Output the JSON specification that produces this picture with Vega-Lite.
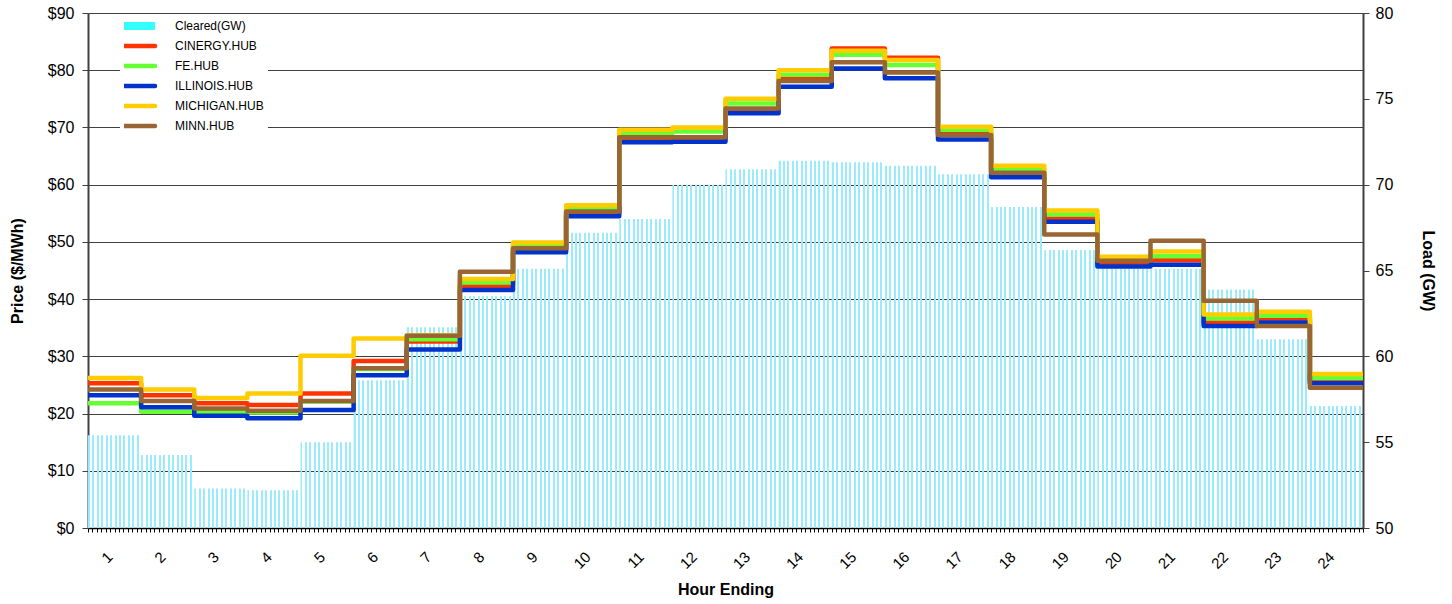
{
  "$schema": "https://vega.github.io/schema/vega-lite/v6.json",
  "width": 1275,
  "height": 515,
  "autosize": {"type": "none"},
  "padding": {"left": 88, "top": 13, "right": 89, "bottom": 76},
  "background": "white",
  "config": {
    "view": {"stroke": null},
    "font": "Liberation Sans",
    "axis": {"labelFont": "Liberation Sans", "titleFont": "Liberation Sans", "labelColor": "black", "titleColor": "black"}
  },
  "datasets": {
    "load": [
      {"hour_begin": 0, "hour_end": 1, "load": 55.4},
      {"hour_begin": 1, "hour_end": 2, "load": 54.25},
      {"hour_begin": 2, "hour_end": 3, "load": 52.3},
      {"hour_begin": 3, "hour_end": 4, "load": 52.2},
      {"hour_begin": 4, "hour_end": 5, "load": 55.0},
      {"hour_begin": 5, "hour_end": 6, "load": 58.6},
      {"hour_begin": 6, "hour_end": 7, "load": 61.7},
      {"hour_begin": 7, "hour_end": 8, "load": 63.5},
      {"hour_begin": 8, "hour_end": 9, "load": 65.1},
      {"hour_begin": 9, "hour_end": 10, "load": 67.2},
      {"hour_begin": 10, "hour_end": 11, "load": 68.0},
      {"hour_begin": 11, "hour_end": 12, "load": 70.0},
      {"hour_begin": 12, "hour_end": 13, "load": 70.9},
      {"hour_begin": 13, "hour_end": 14, "load": 71.4},
      {"hour_begin": 14, "hour_end": 15, "load": 71.3},
      {"hour_begin": 15, "hour_end": 16, "load": 71.1},
      {"hour_begin": 16, "hour_end": 17, "load": 70.6},
      {"hour_begin": 17, "hour_end": 18, "load": 68.7},
      {"hour_begin": 18, "hour_end": 19, "load": 66.2},
      {"hour_begin": 19, "hour_end": 20, "load": 65.1},
      {"hour_begin": 20, "hour_end": 21, "load": 65.1},
      {"hour_begin": 21, "hour_end": 22, "load": 63.9},
      {"hour_begin": 22, "hour_end": 23, "load": 61.0},
      {"hour_begin": 23, "hour_end": 24, "load": 57.1}
    ],
    "prices": [
      {"hub": "CINERGY.HUB", "hour_begin": 0, "hour_end": 1, "price": 25.3},
      {"hub": "CINERGY.HUB", "hour_begin": 1, "hour_end": 2, "price": 23.2},
      {"hub": "CINERGY.HUB", "hour_begin": 2, "hour_end": 3, "price": 21.8},
      {"hub": "CINERGY.HUB", "hour_begin": 3, "hour_end": 4, "price": 21.5},
      {"hub": "CINERGY.HUB", "hour_begin": 4, "hour_end": 5, "price": 23.5},
      {"hub": "CINERGY.HUB", "hour_begin": 5, "hour_end": 6, "price": 29.2},
      {"hub": "CINERGY.HUB", "hour_begin": 6, "hour_end": 7, "price": 32.6},
      {"hub": "CINERGY.HUB", "hour_begin": 7, "hour_end": 8, "price": 42.3},
      {"hub": "CINERGY.HUB", "hour_begin": 8, "hour_end": 9, "price": 48.7},
      {"hub": "CINERGY.HUB", "hour_begin": 9, "hour_end": 10, "price": 55.1},
      {"hub": "CINERGY.HUB", "hour_begin": 10, "hour_end": 11, "price": 68.2},
      {"hub": "CINERGY.HUB", "hour_begin": 11, "hour_end": 12, "price": 68.2},
      {"hub": "CINERGY.HUB", "hour_begin": 12, "hour_end": 13, "price": 73.2},
      {"hub": "CINERGY.HUB", "hour_begin": 13, "hour_end": 14, "price": 78.6},
      {"hub": "CINERGY.HUB", "hour_begin": 14, "hour_end": 15, "price": 83.8},
      {"hub": "CINERGY.HUB", "hour_begin": 15, "hour_end": 16, "price": 82.2},
      {"hub": "CINERGY.HUB", "hour_begin": 16, "hour_end": 17, "price": 69.0},
      {"hub": "CINERGY.HUB", "hour_begin": 17, "hour_end": 18, "price": 62.0},
      {"hub": "CINERGY.HUB", "hour_begin": 18, "hour_end": 19, "price": 54.1},
      {"hub": "CINERGY.HUB", "hour_begin": 19, "hour_end": 20, "price": 46.3},
      {"hub": "CINERGY.HUB", "hour_begin": 20, "hour_end": 21, "price": 46.8},
      {"hub": "CINERGY.HUB", "hour_begin": 21, "hour_end": 22, "price": 35.9},
      {"hub": "CINERGY.HUB", "hour_begin": 22, "hour_end": 23, "price": 36.6},
      {"hub": "CINERGY.HUB", "hour_begin": 23, "hour_end": 24, "price": 25.7},
      {"hub": "FE.HUB", "hour_begin": 0, "hour_end": 1, "price": 21.8},
      {"hub": "FE.HUB", "hour_begin": 1, "hour_end": 2, "price": 20.3},
      {"hub": "FE.HUB", "hour_begin": 2, "hour_end": 3, "price": 20.3},
      {"hub": "FE.HUB", "hour_begin": 3, "hour_end": 4, "price": 20.2},
      {"hub": "FE.HUB", "hour_begin": 4, "hour_end": 5, "price": 22.1},
      {"hub": "FE.HUB", "hour_begin": 5, "hour_end": 6, "price": 27.8},
      {"hub": "FE.HUB", "hour_begin": 6, "hour_end": 7, "price": 33.0},
      {"hub": "FE.HUB", "hour_begin": 7, "hour_end": 8, "price": 42.9},
      {"hub": "FE.HUB", "hour_begin": 8, "hour_end": 9, "price": 49.5},
      {"hub": "FE.HUB", "hour_begin": 9, "hour_end": 10, "price": 55.9},
      {"hub": "FE.HUB", "hour_begin": 10, "hour_end": 11, "price": 69.0},
      {"hub": "FE.HUB", "hour_begin": 11, "hour_end": 12, "price": 69.3},
      {"hub": "FE.HUB", "hour_begin": 12, "hour_end": 13, "price": 74.2},
      {"hub": "FE.HUB", "hour_begin": 13, "hour_end": 14, "price": 79.2},
      {"hub": "FE.HUB", "hour_begin": 14, "hour_end": 15, "price": 82.7},
      {"hub": "FE.HUB", "hour_begin": 15, "hour_end": 16, "price": 80.9},
      {"hub": "FE.HUB", "hour_begin": 16, "hour_end": 17, "price": 69.6},
      {"hub": "FE.HUB", "hour_begin": 17, "hour_end": 18, "price": 62.7},
      {"hub": "FE.HUB", "hour_begin": 18, "hour_end": 19, "price": 54.8},
      {"hub": "FE.HUB", "hour_begin": 19, "hour_end": 20, "price": 47.0},
      {"hub": "FE.HUB", "hour_begin": 20, "hour_end": 21, "price": 47.5},
      {"hub": "FE.HUB", "hour_begin": 21, "hour_end": 22, "price": 36.6},
      {"hub": "FE.HUB", "hour_begin": 22, "hour_end": 23, "price": 37.1},
      {"hub": "FE.HUB", "hour_begin": 23, "hour_end": 24, "price": 26.2},
      {"hub": "ILLINOIS.HUB", "hour_begin": 0, "hour_end": 1, "price": 23.2},
      {"hub": "ILLINOIS.HUB", "hour_begin": 1, "hour_end": 2, "price": 21.1},
      {"hub": "ILLINOIS.HUB", "hour_begin": 2, "hour_end": 3, "price": 19.6},
      {"hub": "ILLINOIS.HUB", "hour_begin": 3, "hour_end": 4, "price": 19.2},
      {"hub": "ILLINOIS.HUB", "hour_begin": 4, "hour_end": 5, "price": 20.6},
      {"hub": "ILLINOIS.HUB", "hour_begin": 5, "hour_end": 6, "price": 26.7},
      {"hub": "ILLINOIS.HUB", "hour_begin": 6, "hour_end": 7, "price": 31.2},
      {"hub": "ILLINOIS.HUB", "hour_begin": 7, "hour_end": 8, "price": 41.6},
      {"hub": "ILLINOIS.HUB", "hour_begin": 8, "hour_end": 9, "price": 48.2},
      {"hub": "ILLINOIS.HUB", "hour_begin": 9, "hour_end": 10, "price": 54.5},
      {"hub": "ILLINOIS.HUB", "hour_begin": 10, "hour_end": 11, "price": 67.4},
      {"hub": "ILLINOIS.HUB", "hour_begin": 11, "hour_end": 12, "price": 67.5},
      {"hub": "ILLINOIS.HUB", "hour_begin": 12, "hour_end": 13, "price": 72.5},
      {"hub": "ILLINOIS.HUB", "hour_begin": 13, "hour_end": 14, "price": 77.1},
      {"hub": "ILLINOIS.HUB", "hour_begin": 14, "hour_end": 15, "price": 80.3},
      {"hub": "ILLINOIS.HUB", "hour_begin": 15, "hour_end": 16, "price": 78.6},
      {"hub": "ILLINOIS.HUB", "hour_begin": 16, "hour_end": 17, "price": 67.9},
      {"hub": "ILLINOIS.HUB", "hour_begin": 17, "hour_end": 18, "price": 61.3},
      {"hub": "ILLINOIS.HUB", "hour_begin": 18, "hour_end": 19, "price": 53.5},
      {"hub": "ILLINOIS.HUB", "hour_begin": 19, "hour_end": 20, "price": 45.7},
      {"hub": "ILLINOIS.HUB", "hour_begin": 20, "hour_end": 21, "price": 46.0},
      {"hub": "ILLINOIS.HUB", "hour_begin": 21, "hour_end": 22, "price": 35.3},
      {"hub": "ILLINOIS.HUB", "hour_begin": 22, "hour_end": 23, "price": 35.9},
      {"hub": "ILLINOIS.HUB", "hour_begin": 23, "hour_end": 24, "price": 25.3},
      {"hub": "MICHIGAN.HUB", "hour_begin": 0, "hour_end": 1, "price": 26.2},
      {"hub": "MICHIGAN.HUB", "hour_begin": 1, "hour_end": 2, "price": 24.2},
      {"hub": "MICHIGAN.HUB", "hour_begin": 2, "hour_end": 3, "price": 22.7},
      {"hub": "MICHIGAN.HUB", "hour_begin": 3, "hour_end": 4, "price": 23.5},
      {"hub": "MICHIGAN.HUB", "hour_begin": 4, "hour_end": 5, "price": 30.1},
      {"hub": "MICHIGAN.HUB", "hour_begin": 5, "hour_end": 6, "price": 33.1},
      {"hub": "MICHIGAN.HUB", "hour_begin": 6, "hour_end": 7, "price": 33.7},
      {"hub": "MICHIGAN.HUB", "hour_begin": 7, "hour_end": 8, "price": 43.5},
      {"hub": "MICHIGAN.HUB", "hour_begin": 8, "hour_end": 9, "price": 49.9},
      {"hub": "MICHIGAN.HUB", "hour_begin": 9, "hour_end": 10, "price": 56.4},
      {"hub": "MICHIGAN.HUB", "hour_begin": 10, "hour_end": 11, "price": 69.6},
      {"hub": "MICHIGAN.HUB", "hour_begin": 11, "hour_end": 12, "price": 70.0},
      {"hub": "MICHIGAN.HUB", "hour_begin": 12, "hour_end": 13, "price": 75.0},
      {"hub": "MICHIGAN.HUB", "hour_begin": 13, "hour_end": 14, "price": 80.0},
      {"hub": "MICHIGAN.HUB", "hour_begin": 14, "hour_end": 15, "price": 83.4},
      {"hub": "MICHIGAN.HUB", "hour_begin": 15, "hour_end": 16, "price": 81.8},
      {"hub": "MICHIGAN.HUB", "hour_begin": 16, "hour_end": 17, "price": 70.1},
      {"hub": "MICHIGAN.HUB", "hour_begin": 17, "hour_end": 18, "price": 63.3},
      {"hub": "MICHIGAN.HUB", "hour_begin": 18, "hour_end": 19, "price": 55.5},
      {"hub": "MICHIGAN.HUB", "hour_begin": 19, "hour_end": 20, "price": 47.4},
      {"hub": "MICHIGAN.HUB", "hour_begin": 20, "hour_end": 21, "price": 48.3},
      {"hub": "MICHIGAN.HUB", "hour_begin": 21, "hour_end": 22, "price": 37.3},
      {"hub": "MICHIGAN.HUB", "hour_begin": 22, "hour_end": 23, "price": 37.8},
      {"hub": "MICHIGAN.HUB", "hour_begin": 23, "hour_end": 24, "price": 26.9},
      {"hub": "MINN.HUB", "hour_begin": 0, "hour_end": 1, "price": 24.2},
      {"hub": "MINN.HUB", "hour_begin": 1, "hour_end": 2, "price": 22.2},
      {"hub": "MINN.HUB", "hour_begin": 2, "hour_end": 3, "price": 20.9},
      {"hub": "MINN.HUB", "hour_begin": 3, "hour_end": 4, "price": 20.5},
      {"hub": "MINN.HUB", "hour_begin": 4, "hour_end": 5, "price": 22.2},
      {"hub": "MINN.HUB", "hour_begin": 5, "hour_end": 6, "price": 27.9},
      {"hub": "MINN.HUB", "hour_begin": 6, "hour_end": 7, "price": 33.6},
      {"hub": "MINN.HUB", "hour_begin": 7, "hour_end": 8, "price": 44.8},
      {"hub": "MINN.HUB", "hour_begin": 8, "hour_end": 9, "price": 48.9},
      {"hub": "MINN.HUB", "hour_begin": 9, "hour_end": 10, "price": 55.3},
      {"hub": "MINN.HUB", "hour_begin": 10, "hour_end": 11, "price": 68.3},
      {"hub": "MINN.HUB", "hour_begin": 11, "hour_end": 12, "price": 68.3},
      {"hub": "MINN.HUB", "hour_begin": 12, "hour_end": 13, "price": 73.3},
      {"hub": "MINN.HUB", "hour_begin": 13, "hour_end": 14, "price": 78.1},
      {"hub": "MINN.HUB", "hour_begin": 14, "hour_end": 15, "price": 81.4},
      {"hub": "MINN.HUB", "hour_begin": 15, "hour_end": 16, "price": 79.6},
      {"hub": "MINN.HUB", "hour_begin": 16, "hour_end": 17, "price": 68.7},
      {"hub": "MINN.HUB", "hour_begin": 17, "hour_end": 18, "price": 62.1},
      {"hub": "MINN.HUB", "hour_begin": 18, "hour_end": 19, "price": 51.3},
      {"hub": "MINN.HUB", "hour_begin": 19, "hour_end": 20, "price": 46.7},
      {"hub": "MINN.HUB", "hour_begin": 20, "hour_end": 21, "price": 50.2},
      {"hub": "MINN.HUB", "hour_begin": 21, "hour_end": 22, "price": 39.7},
      {"hub": "MINN.HUB", "hour_begin": 22, "hour_end": 23, "price": 35.3},
      {"hub": "MINN.HUB", "hour_begin": 23, "hour_end": 24, "price": 24.5}
    ]
  },
  "layer": [
    {
      "data": {"name": "load"},
      "mark": {
        "type": "bar",
        "stroke": null,
        "fill": {
          "gradient": "linear",
          "x1": 0, "x2": 1, "y1": 0, "y2": 0,
          "stops": [
            {"offset": 0, "color": "#9AEBFB"}, {"offset": 0.0375, "color": "#9AEBFB"}, {"offset": 0.0375, "color": "rgba(255,255,255,0)"}, {"offset": 0.08333, "color": "rgba(255,255,255,0)"},
            {"offset": 0.08333, "color": "#9AEBFB"}, {"offset": 0.12083, "color": "#9AEBFB"}, {"offset": 0.12083, "color": "rgba(255,255,255,0)"}, {"offset": 0.16667, "color": "rgba(255,255,255,0)"},
            {"offset": 0.16667, "color": "#9AEBFB"}, {"offset": 0.20417, "color": "#9AEBFB"}, {"offset": 0.20417, "color": "rgba(255,255,255,0)"}, {"offset": 0.25, "color": "rgba(255,255,255,0)"},
            {"offset": 0.25, "color": "#9AEBFB"}, {"offset": 0.2875, "color": "#9AEBFB"}, {"offset": 0.2875, "color": "rgba(255,255,255,0)"}, {"offset": 0.33333, "color": "rgba(255,255,255,0)"},
            {"offset": 0.33333, "color": "#9AEBFB"}, {"offset": 0.37083, "color": "#9AEBFB"}, {"offset": 0.37083, "color": "rgba(255,255,255,0)"}, {"offset": 0.41667, "color": "rgba(255,255,255,0)"},
            {"offset": 0.41667, "color": "#9AEBFB"}, {"offset": 0.45417, "color": "#9AEBFB"}, {"offset": 0.45417, "color": "rgba(255,255,255,0)"}, {"offset": 0.5, "color": "rgba(255,255,255,0)"},
            {"offset": 0.5, "color": "#9AEBFB"}, {"offset": 0.5375, "color": "#9AEBFB"}, {"offset": 0.5375, "color": "rgba(255,255,255,0)"}, {"offset": 0.58333, "color": "rgba(255,255,255,0)"},
            {"offset": 0.58333, "color": "#9AEBFB"}, {"offset": 0.62083, "color": "#9AEBFB"}, {"offset": 0.62083, "color": "rgba(255,255,255,0)"}, {"offset": 0.66667, "color": "rgba(255,255,255,0)"},
            {"offset": 0.66667, "color": "#9AEBFB"}, {"offset": 0.70417, "color": "#9AEBFB"}, {"offset": 0.70417, "color": "rgba(255,255,255,0)"}, {"offset": 0.75, "color": "rgba(255,255,255,0)"},
            {"offset": 0.75, "color": "#9AEBFB"}, {"offset": 0.7875, "color": "#9AEBFB"}, {"offset": 0.7875, "color": "rgba(255,255,255,0)"}, {"offset": 0.83333, "color": "rgba(255,255,255,0)"},
            {"offset": 0.83333, "color": "#9AEBFB"}, {"offset": 0.87083, "color": "#9AEBFB"}, {"offset": 0.87083, "color": "rgba(255,255,255,0)"}, {"offset": 0.91667, "color": "rgba(255,255,255,0)"},
            {"offset": 0.91667, "color": "#9AEBFB"}, {"offset": 0.95417, "color": "#9AEBFB"}, {"offset": 0.95417, "color": "rgba(255,255,255,0)"}, {"offset": 1, "color": "rgba(255,255,255,0)"}
          ]
        }
      },
      "encoding": {
        "x": {
          "field": "hour_begin",
          "type": "quantitative",
          "scale": {"domain": [0, 24], "nice": false, "zero": false},
          "axis": {
            "title": "Hour Ending",
            "titleFontSize": 16,
            "titleFontWeight": "bold",
            "titlePadding": 10,
            "grid": false,
            "domainColor": "black",
            "domainWidth": 1.5,
            "tickColor": "black",
            "tickSize": 4,
            "values": [0,0.0833,0.1667,0.25,0.3333,0.4167,0.5,0.5833,0.6667,0.75,0.8333,0.9167,
              1,1.0833,1.1667,1.25,1.3333,1.4167,1.5,1.5833,1.6667,1.75,1.8333,1.9167,
              2,2.0833,2.1667,2.25,2.3333,2.4167,2.5,2.5833,2.6667,2.75,2.8333,2.9167,
              3,3.0833,3.1667,3.25,3.3333,3.4167,3.5,3.5833,3.6667,3.75,3.8333,3.9167,
              4,4.0833,4.1667,4.25,4.3333,4.4167,4.5,4.5833,4.6667,4.75,4.8333,4.9167,
              5,5.0833,5.1667,5.25,5.3333,5.4167,5.5,5.5833,5.6667,5.75,5.8333,5.9167,
              6,6.0833,6.1667,6.25,6.3333,6.4167,6.5,6.5833,6.6667,6.75,6.8333,6.9167,
              7,7.0833,7.1667,7.25,7.3333,7.4167,7.5,7.5833,7.6667,7.75,7.8333,7.9167,
              8,8.0833,8.1667,8.25,8.3333,8.4167,8.5,8.5833,8.6667,8.75,8.8333,8.9167,
              9,9.0833,9.1667,9.25,9.3333,9.4167,9.5,9.5833,9.6667,9.75,9.8333,9.9167,
              10,10.0833,10.1667,10.25,10.3333,10.4167,10.5,10.5833,10.6667,10.75,10.8333,10.9167,
              11,11.0833,11.1667,11.25,11.3333,11.4167,11.5,11.5833,11.6667,11.75,11.8333,11.9167,
              12,12.0833,12.1667,12.25,12.3333,12.4167,12.5,12.5833,12.6667,12.75,12.8333,12.9167,
              13,13.0833,13.1667,13.25,13.3333,13.4167,13.5,13.5833,13.6667,13.75,13.8333,13.9167,
              14,14.0833,14.1667,14.25,14.3333,14.4167,14.5,14.5833,14.6667,14.75,14.8333,14.9167,
              15,15.0833,15.1667,15.25,15.3333,15.4167,15.5,15.5833,15.6667,15.75,15.8333,15.9167,
              16,16.0833,16.1667,16.25,16.3333,16.4167,16.5,16.5833,16.6667,16.75,16.8333,16.9167,
              17,17.0833,17.1667,17.25,17.3333,17.4167,17.5,17.5833,17.6667,17.75,17.8333,17.9167,
              18,18.0833,18.1667,18.25,18.3333,18.4167,18.5,18.5833,18.6667,18.75,18.8333,18.9167,
              19,19.0833,19.1667,19.25,19.3333,19.4167,19.5,19.5833,19.6667,19.75,19.8333,19.9167,
              20,20.0833,20.1667,20.25,20.3333,20.4167,20.5,20.5833,20.6667,20.75,20.8333,20.9167,
              21,21.0833,21.1667,21.25,21.3333,21.4167,21.5,21.5833,21.6667,21.75,21.8333,21.9167,
              22,22.0833,22.1667,22.25,22.3333,22.4167,22.5,22.5833,22.6667,22.75,22.8333,22.9167,
              23,23.0833,23.1667,23.25,23.3333,23.4167,23.5,23.5833,23.6667,23.75,23.8333,23.9167,
              24],
            "labelExpr": "(datum.value * 2) % 2 == 1 ? format(datum.value + 0.5, 'd') : ''",
            "labelAngle": -45,
            "labelAlign": "right",
            "labelBaseline": "middle",
            "labelFontSize": 15,
            "labelPadding": 22,
            "labelOffset": -5,
            "labelOverlap": false,
            "labelFlush": false,
            "labelBound": false
          }
        },
        "x2": {"field": "hour_end"},
        "y": {
          "field": "load",
          "type": "quantitative",
          "scale": {"domain": [50, 80], "nice": false, "zero": false},
          "axis": {
            "orient": "right",
            "title": "Load (GW)",
            "titleFontSize": 16,
            "titleFontWeight": "bold",
            "titlePadding": 27,
            "values": [50, 55, 60, 65, 70, 75, 80],
            "grid": false,
            "domainColor": "#404040",
            "domainWidth": 2,
            "tickColor": "#404040",
            "tickSize": 6,
            "labelFontSize": 16,
            "labelPadding": 6
          }
        },
        "y2": {"datum": 50}
      }
    },
    {
      "data": {"name": "prices"},
      "transform": [{"fold": ["hour_begin", "hour_end"], "as": ["edge", "t"]}],
      "mark": {"type": "line", "strokeWidth": 4.5, "strokeJoin": "round", "strokeCap": "butt"},
      "encoding": {
        "x": {"field": "t", "type": "quantitative", "axis": null},
        "y": {
          "field": "price",
          "type": "quantitative",
          "scale": {"domain": [0, 90], "nice": false},
          "axis": {
            "orient": "left",
            "title": "Price ($/MWh)",
            "titleFontSize": 16,
            "titleFontWeight": "bold",
            "titlePadding": 22,
            "values": [0, 10, 20, 30, 40, 50, 60, 70, 80, 90],
            "labelExpr": "'$' + datum.value",
            "grid": true,
            "gridColor": "#404040",
            "gridWidth": 1,
            "domainColor": "#404040",
            "domainWidth": 2,
            "tickColor": "#404040",
            "tickSize": 6,
            "labelFontSize": 16,
            "labelPadding": 8
          }
        },
        "color": {
          "field": "hub",
          "type": "nominal",
          "scale": {
            "domain": ["Cleared(GW)", "CINERGY.HUB", "FE.HUB", "ILLINOIS.HUB", "MICHIGAN.HUB", "MINN.HUB"],
            "range": ["#33FFFF", "#FF3300", "#66FF33", "#0033CC", "#FFCC00", "#996633"]
          },
          "legend": {
            "title": null,
            "orient": "none",
            "legendX": 32,
            "legendY": 2,
            "fillColor": "white",
            "strokeColor": null,
            "padding": 4,
            "symbolType": "stroke",
            "symbolSize": 2500,
            "symbolStrokeWidth": 4.5,
            "clipHeight": 14,
            "rowPadding": 6,
            "labelFont": "Liberation Sans",
            "labelFontSize": 12,
            "labelColor": "black",
            "labelOffset": 39,
            "labelExpr": "datum.label + '\u00a0\u00a0\u00a0\u00a0\u00a0\u00a0\u00a0\u00a0\u00a0\u00a0\u00a0\u00a0\u00a0'",
            "encode": {
              "symbols": {
                "update": {
                  "strokeWidth": {"signal": "datum.value === 'Cleared(GW)' ? 8 : 4.5"},
                  "strokeCap": {"signal": "datum.value === 'Cleared(GW)' ? 'butt' : 'round'"}
                }
              }
            }
          }
        },
        "order": [{"field": "t", "type": "quantitative"}, {"field": "hour_end", "type": "quantitative"}]
      }
    }
  ],
  "resolve": {"scale": {"y": "independent"}, "axis": {"x": "independent"}}
}
